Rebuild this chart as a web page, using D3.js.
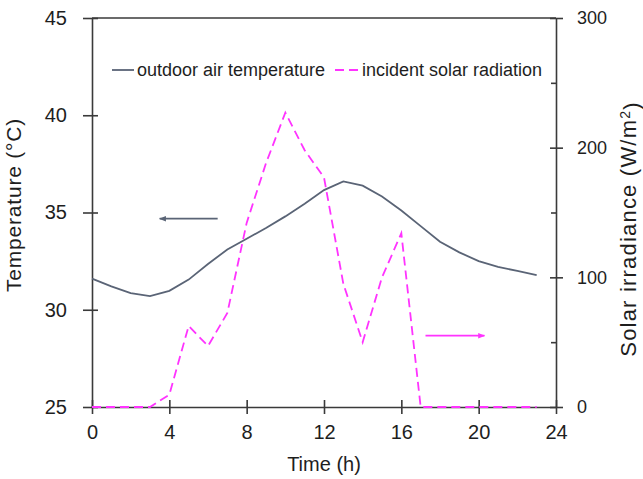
<!DOCTYPE html>
<html>
<head>
<meta charset="utf-8">
<script src="https://cdn.jsdelivr.net/npm/d3@7/dist/d3.min.js"></script>
<style>
  body { margin: 0; background: #fff; }
  svg text { font-family: "Liberation Sans", Arial, sans-serif; fill: #1e1e1e; }
  .axis path, .axis line { stroke: #3a3a3a; stroke-width: 1.6; }
</style>
</head>
<body>
<div id="chart"></div>
<script>
// hourly readings
var hours = [0, 1, 2, 3, 4, 5, 6, 7, 8, 9, 10, 11, 12, 13, 14, 15, 16, 17, 18, 19, 20, 21, 22, 23];
var airTemp = [31.6, 31.2, 30.85, 30.7, 30.97, 31.55, 32.35, 33.1, 33.65, 34.2, 34.8, 35.45,
               36.15, 36.6, 36.38, 35.82, 35.1, 34.3, 33.5, 32.95, 32.5, 32.2, 32.0, 31.78];
var solar = [0, 0, 0, 0, 9.5, 62.5, 47, 72.5, 142, 188, 227, 198,
             177, 95, 50, 100, 134, 0, 0, 0, 0, 0, 0, 0];

var timeTicks = [0, 4, 8, 12, 16, 20, 24];
var tempTicks = [25, 30, 35, 40, 45];
var solarTicks = [0, 100, 200, 300];
var solarMinor = [50, 150, 250];

var legendLabels = ["outdoor air temperature", "incident solar radiation"];

// arrows pointing at the axis each curve belongs to (data units)
var tempArrow  = {from: 6.5, to: 3.5, at: 34.68};
var solarArrow = {from: 17.25, to: 20.3, at: 55};

var tempColor = "#5a6476",
    solarColor = "#ff33ff";

var chartWidth = 643,
    chartHeight = 479;

var margin = {top: 18, right: 87, bottom: 72, left: 92},
    width  = chartWidth - margin.left - margin.right,
    height = chartHeight - margin.top - margin.bottom;

var x = d3.scaleLinear().domain([0, 24]).range([0, width]);
var yT = d3.scaleLinear().domain([25, 45]).range([height, 0]);
var yS = d3.scaleLinear().domain([0, 300]).range([height, 0]);

var svg = d3.select("#chart").append("svg")
    .attr("width", chartWidth)
    .attr("height", chartHeight);

var defs = svg.append("defs");
function arrowHead(id, colour) {
  defs.append("marker")
      .attr("id", id)
      .attr("viewBox", "0 -5 10 10")
      .attr("refX", 9)
      .attr("refY", 0)
      .attr("markerUnits", "userSpaceOnUse")
      .attr("markerWidth", 10)
      .attr("markerHeight", 7)
      .attr("orient", "auto")
    .append("path")
      .attr("d", "M0,-4L10,0L0,4Z")
      .attr("fill", colour);
}
arrowHead("head-temp", tempColor);
arrowHead("head-solar", solarColor);

var g = svg.append("g")
    .attr("transform", "translate(" + margin.left + "," + margin.top + ")");

// top frame line
g.append("line")
    .attr("x1", x(0)).attr("x2", x(24))
    .attr("y1", yT(45)).attr("y2", yT(45))
    .attr("stroke", "#3a3a3a")
    .attr("stroke-width", 1.6);

// bottom axis, ticks cross the line
var xAxis = g.append("g")
    .attr("class", "axis axis--x")
    .attr("transform", "translate(0," + height + ")")
    .call(d3.axisBottom(x).tickValues(timeTicks).tickSizeOuter(0));
xAxis.selectAll(".tick line").attr("y1", -7).attr("y2", 7);
xAxis.selectAll(".tick text").attr("y", 18).style("font-size", "20px");

// left axis
var yAxis = g.append("g")
    .attr("class", "axis axis--y")
    .call(d3.axisLeft(yT).tickValues(tempTicks).tickSizeOuter(0));
yAxis.selectAll(".tick line").attr("x1", 6).attr("x2", -9);
yAxis.selectAll(".tick text").attr("x", -25).style("font-size", "20px");

// right axis
var y2Axis = g.append("g")
    .attr("class", "axis axis--y2")
    .attr("transform", "translate(" + width + ",0)")
    .call(d3.axisRight(yS).tickValues(solarTicks).tickSizeOuter(0));
y2Axis.selectAll(".tick line").attr("x1", -6).attr("x2", 7);
y2Axis.selectAll(".tick text").attr("x", 21).style("font-size", "18px");

var y2Minor = g.append("g")
    .attr("class", "axis axis--y2minor")
    .attr("transform", "translate(" + width + ",0)")
    .call(d3.axisRight(yS).tickValues(solarMinor).tickFormat("").tickSizeOuter(0));
y2Minor.select(".domain").remove();
y2Minor.selectAll(".tick line").attr("x1", -5).attr("x2", 0);

// curves
var tempLine = d3.line()
    .x(function(d, i) { return x(hours[i]); })
    .y(function(d) { return yT(d); });

var solarLine = d3.line()
    .x(function(d, i) { return x(hours[i]); })
    .y(function(d) { return yS(d); });

g.append("path")
    .datum(airTemp)
    .attr("fill", "none")
    .attr("stroke", tempColor)
    .attr("stroke-width", 1.8)
    .attr("d", tempLine);

g.append("path")
    .datum(solar)
    .attr("fill", "none")
    .attr("stroke", solarColor)
    .attr("stroke-width", 1.8)
    .attr("stroke-dasharray", "9,5")
    .attr("d", solarLine);

// arrows
g.append("line")
    .attr("x1", x(tempArrow.from)).attr("x2", x(tempArrow.to))
    .attr("y1", yT(tempArrow.at)).attr("y2", yT(tempArrow.at))
    .attr("stroke", tempColor)
    .attr("stroke-width", 1.8)
    .attr("marker-end", "url(#head-temp)");

g.append("line")
    .attr("x1", x(solarArrow.from)).attr("x2", x(solarArrow.to))
    .attr("y1", yS(solarArrow.at)).attr("y2", yS(solarArrow.at))
    .attr("stroke", solarColor)
    .attr("stroke-width", 1.8)
    .attr("marker-end", "url(#head-solar)");

// legend
var legend = g.append("g").attr("transform", "translate(0,52)");
legend.append("line")
    .attr("x1", 20).attr("x2", 42)
    .attr("stroke", tempColor).attr("stroke-width", 1.8);
legend.append("text")
    .attr("x", 45).attr("y", 6)
    .style("font-size", "18px")
    .text(legendLabels[0]);
legend.append("line")
    .attr("x1", 243).attr("x2", 267)
    .attr("stroke", solarColor).attr("stroke-width", 1.8)
    .attr("stroke-dasharray", "9,5");
legend.append("text")
    .attr("x", 270).attr("y", 6)
    .style("font-size", "18px")
    .text(legendLabels[1]);

// axis titles
svg.append("text")
    .attr("x", margin.left + width / 2)
    .attr("y", 471)
    .style("text-anchor", "middle")
    .style("font-size", "20px")
    .text("Time (h)");

svg.append("text")
    .attr("transform", "translate(21,205) rotate(-90)")
    .style("text-anchor", "middle")
    .style("font-size", "21px")
    .style("letter-spacing", "0.8px")
    .text("Temperature (°C)");

var solarTitle = svg.append("text")
    .attr("transform", "translate(636,229) rotate(-90)")
    .style("text-anchor", "middle")
    .style("font-size", "22px")
    .style("letter-spacing", "1.2px");
solarTitle.append("tspan").text("Solar irradiance (W/m");
solarTitle.append("tspan").attr("dy", "-0.4em").style("font-size", "14px").text("2");
solarTitle.append("tspan").attr("dy", "0.4em").text(")");
</script>
</body>
</html>
